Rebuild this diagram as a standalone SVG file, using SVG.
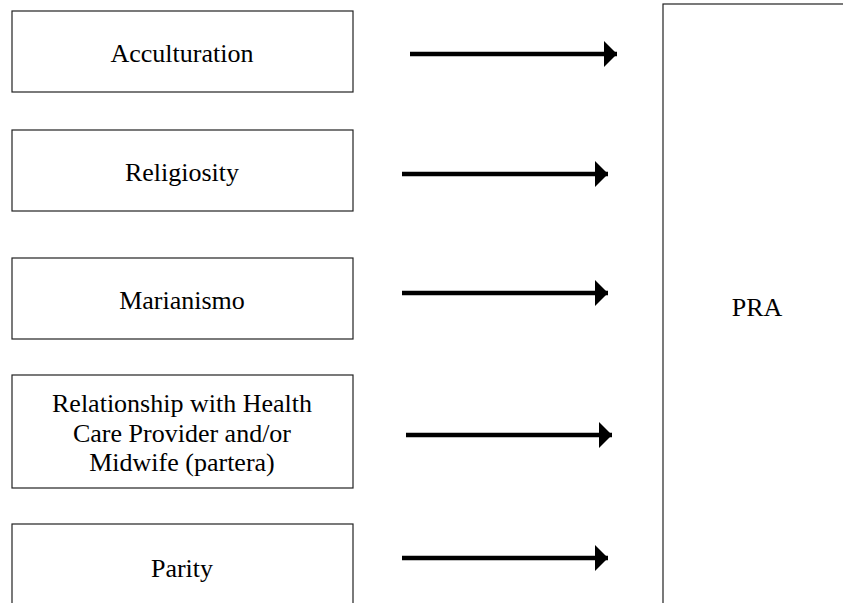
<svg xmlns="http://www.w3.org/2000/svg" width="843" height="603" viewBox="0 0 843 603">
<style>
.box{fill:#fff;stroke:#222;stroke-width:1.2}
.t{font-family:"Liberation Serif","Times New Roman",serif;font-size:26px;fill:#000;text-anchor:middle}
.arr{stroke:#000;stroke-width:4.5;fill:none}
</style>
<defs>
<marker id="ah" markerUnits="userSpaceOnUse" markerWidth="14" markerHeight="28" refX="13" refY="14" orient="auto">
<path d="M0,1 L13,14 L0,27 Z" fill="#000"/>
</marker>
</defs>
<rect width="843" height="603" fill="#fff"/>
<g id="acculturation"><rect class="box" x="12" y="11" width="341" height="81"/><text class="t" x="182" y="62">Acculturation</text></g>
<g id="religiosity"><rect class="box" x="12" y="130" width="341" height="81"/><text class="t" x="182" y="181">Religiosity</text></g>
<g id="marianismo"><rect class="box" x="12" y="258" width="341" height="81"/><text class="t" x="182" y="309">Marianismo</text></g>
<g id="relationship"><rect class="box" x="12" y="375" width="341" height="113"/><text class="t" x="182" y="412">Relationship with Health</text><text class="t" x="182" y="442">Care Provider and/or</text><text class="t" x="182" y="471">Midwife (partera)</text></g>
<g id="parity"><rect class="box" x="12" y="524" width="341" height="100"/><text class="t" x="182" y="577">Parity</text></g>
<g id="pra"><rect class="box" x="663" y="4" width="200" height="620"/><text class="t" x="757" y="316">PRA</text></g>
<g id="connectors">
<line class="arr" x1="410" y1="54" x2="617" y2="54" marker-end="url(#ah)"/>
<line class="arr" x1="402" y1="174" x2="608" y2="174" marker-end="url(#ah)"/>
<line class="arr" x1="402" y1="293" x2="608" y2="293" marker-end="url(#ah)"/>
<line class="arr" x1="406" y1="435" x2="612" y2="435" marker-end="url(#ah)"/>
<line class="arr" x1="402" y1="558" x2="608" y2="558" marker-end="url(#ah)"/>
</g>
</svg>
